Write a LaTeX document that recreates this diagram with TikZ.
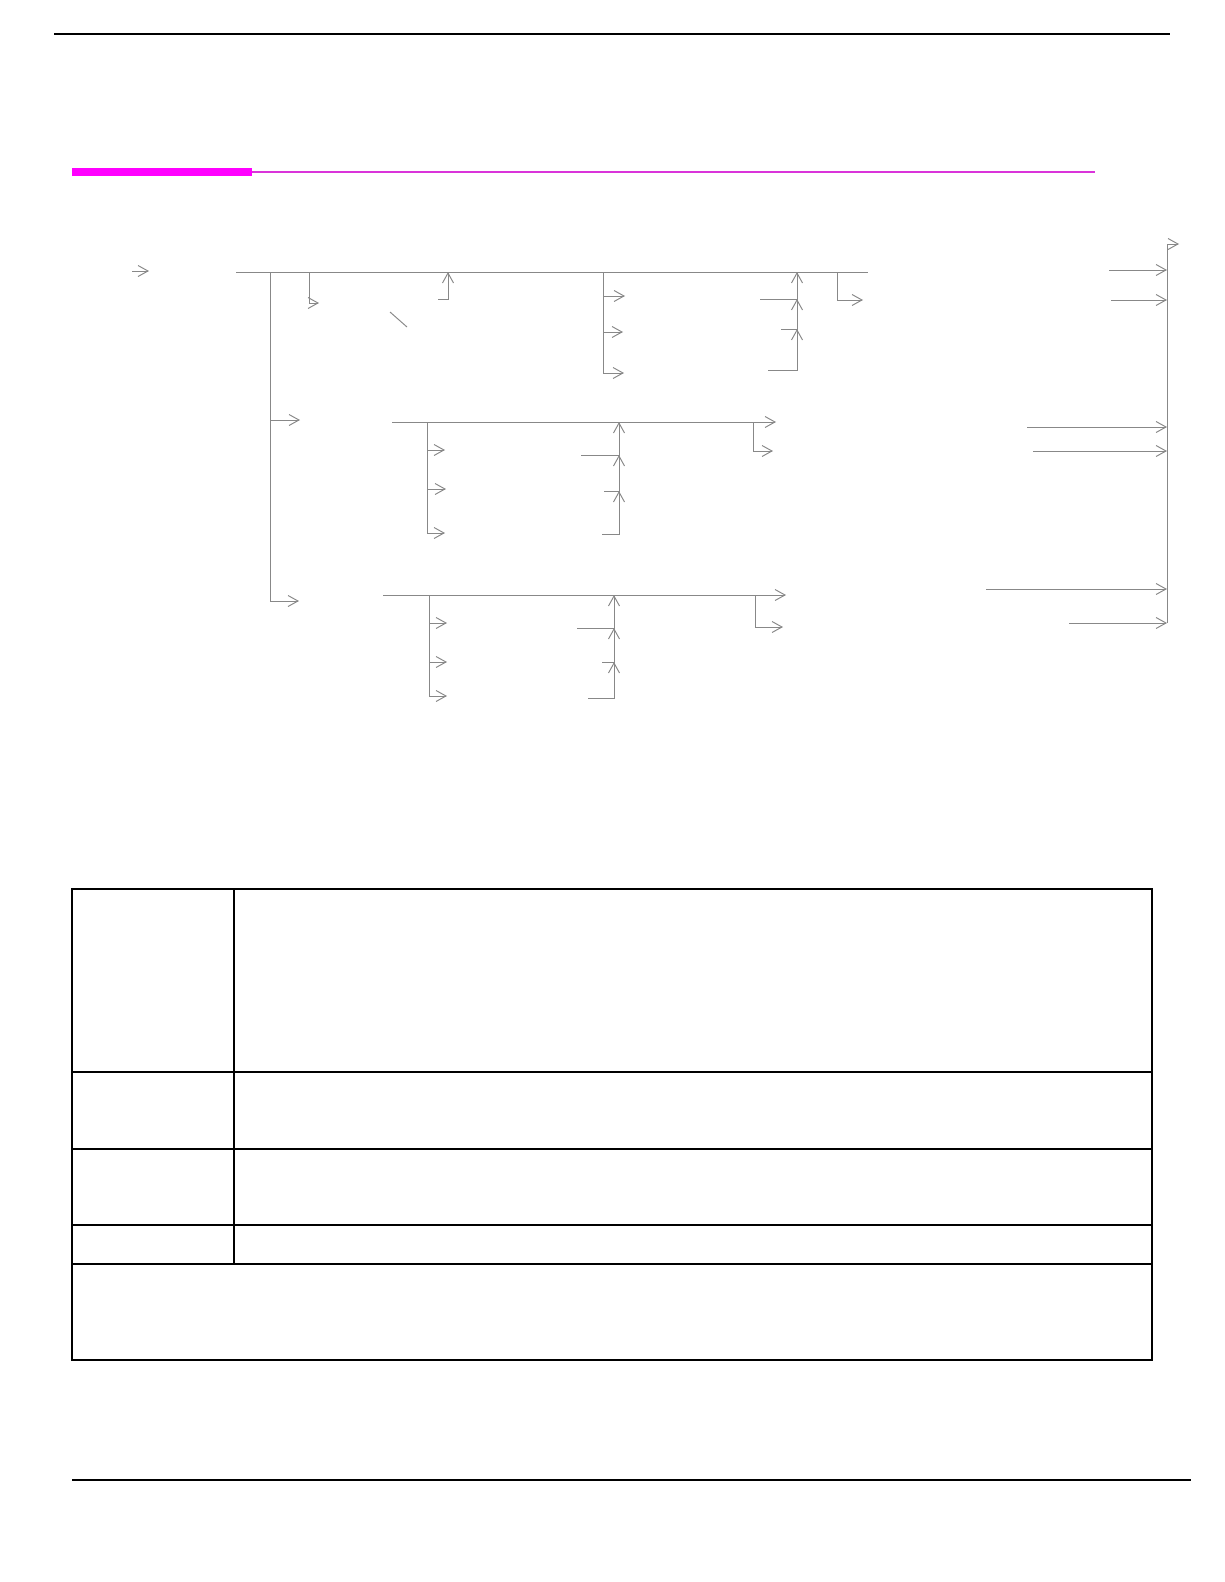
\documentclass[tikz,border=0pt]{standalone}
\usepackage{tikz}
\usetikzlibrary{arrows.meta}
\usetikzlibrary{calc}

\definecolor{barmag}{RGB}{255,0,255}
\definecolor{rulemag}{RGB}{218,52,218}
\definecolor{flowgray}{RGB}{136,136,136}

\begin{document}
\begin{tikzpicture}[x=0.02cm,y=-0.02cm,
  flow/.style={draw=flowgray, line width=0.55pt,
    -{Straight Barb[length=2mm,width=2.2mm]}},
  bus/.style={draw=flowgray, line width=0.55pt},
  grid/.style={draw=black, line width=0.8pt}]

  \useasboundingbox (0,0) rectangle (1224,1582);

  % page rules
  \draw[black, line width=0.6pt] (54,34) -- (1170,34);
  \fill[barmag] (72,168) rectangle (252,176);
  \draw[rulemag, line width=1.3pt] (252,172) -- (1095,172);
  \draw[black, line width=0.8pt] (72,1480) -- (1191,1480);

  % points of the flow chart
  \foreach \n/\x/\y in {in0/132/271, in1/149/271,
      busA0/236/272, busA1/868/272, trunk/270/272, tB/300/420, tC/299/601,
      a0/309/272, a1/319/303, b0/438/299, b1/448/272, d0/390/312, d1/407/327,
      fA/603/272, fA1/625/296, fA2/623/332, fA3/624/373,
      uA/797/272, uA1/760/299, uA2/781/329, uA3/768/370,
      eA0/837/272, eA1/863/300,
      busB0/392/422, busB1/776/422,
      fB/427/422, fB1/445/450, fB2/446/489, fB3/445/533,
      uB/619/422, uB1/581/455, uB2/604/491, uB3/602/534,
      eB0/753/422, eB1/773/451,
      busC0/383/595, busC1/786/595,
      fC/429/595, fC1/447/623, fC2/447/662, fC3/447/696,
      uC/614/595, uC1/577/628, uC2/602/662, uC3/588/698,
      eC0/755/595, eC1/783/627,
      col0/1167/244, col1/1167/623, colT/1179/244,
      r1/1109/270, r2/1111/300, r3/1027/427, r4/1033/451,
      r5/986/589, r6/1069/623}
    \coordinate (\n) at (\x,\y);

  \draw[flow] (in0) -- (in1);
  \draw[bus] (busA0) -- (busA1);
  \draw[flow] (trunk) |- (tC);
  \draw[flow] (trunk|-tB) -- (tB);
  \draw[flow] (a0) |- (a1);
  \draw[flow] (b0) -| (b1);
  \draw[bus] (d0) -- (d1);
  \draw[flow] (busB0) -- (busB1);
  \draw[flow] (busC0) -- (busC1);

  % fan out, fan in and side exit of each row
  \foreach \g in {A,B,C}{
    \draw[flow] (f\g) |- (f\g1);
    \draw[flow] (f\g|-f\g1) |- (f\g2);
    \draw[flow] (f\g|-f\g2) |- (f\g3);
    \draw[flow] (u\g1) -| (u\g);
    \draw[flow] (u\g2) -| (u\g|-u\g1);
    \draw[flow] (u\g3) -| (u\g|-u\g2);
    \draw[flow] (e\g0) |- (e\g1);
  }

  % collector on the right
  \draw[bus] (col0) -- (col1);
  \draw[flow] (col0) -- (colT);
  \foreach \r in {r1,r2,r3,r4,r5,r6}
    \draw[flow] (\r) -- (\r-|col0);

  % table
  \draw[grid] (72,889) rectangle (1152,1360);
  \draw[grid] (234,889) -- (234,1264);
  \foreach \y in {1072,1149,1225,1264}
    \draw[grid] (72,\y) -- (1152,\y);

\end{tikzpicture}
\end{document}
